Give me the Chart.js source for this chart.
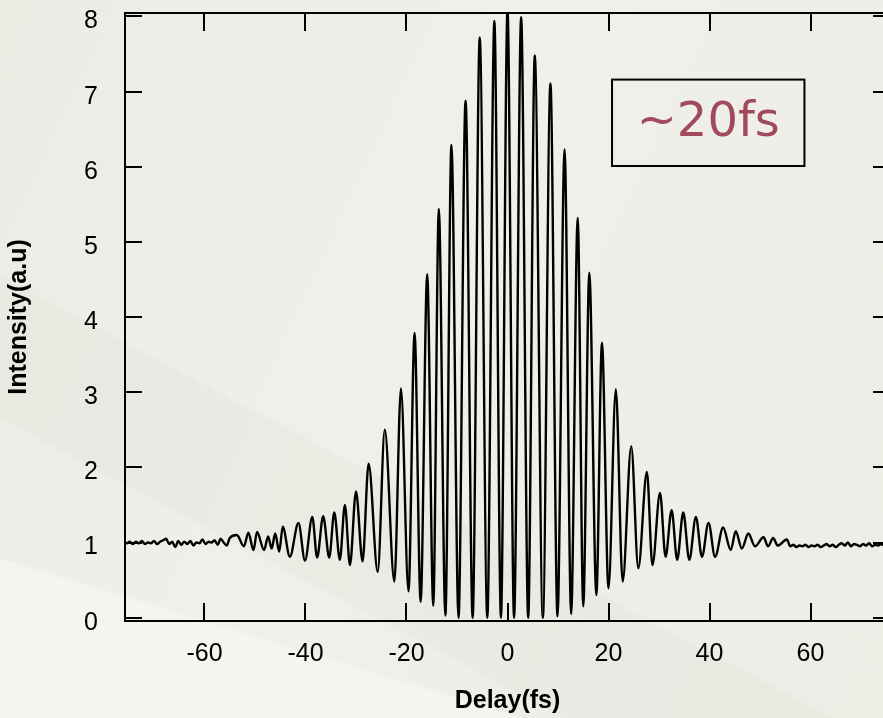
<!DOCTYPE html>
<html>
<head>
<meta charset="utf-8">
<script src="https://cdn.jsdelivr.net/npm/chart.js@4.4.0/dist/chart.umd.min.js"></script>
<style>
html, body { margin: 0; padding: 0; width: 883px; height: 718px; overflow: hidden; }
body {
    background:
        linear-gradient(17deg, #f5f5f0 0 16%, rgba(0,0,0,0) 16.3%),
        linear-gradient(28deg, rgba(0,0,0,0) 0 25%, rgba(220,220,210,0.25) 25.5% 37%, rgba(0,0,0,0) 37.5%),
        linear-gradient(115deg, #ececE5 0%, #f0f0ea 45%, #ededE6 100%);
}
#wrap { position: absolute; left: 0; top: 0; width: 900px; height: 718px; }
</style>
</head>
<body>
<div id="wrap"><canvas id="acChart" width="900" height="718"></canvas></div>
<script>
// Interferometric autocorrelation, values
const xTicks = [-60, -40, -20, 0, 20, 40, 60];
const yTicks = [0, 1, 2, 3, 4, 5, 6, 7, 8];

// flat noisy background, left side
const noiseLeftDelay = [-76.0, -75.4, -74.8, -74.2, -73.6, -73.0, -72.4, -71.8, -71.2, -70.6, -70.0, -69.4,
    -68.8, -68.2, -67.6, -67.0, -66.4, -65.8, -65.2, -64.6, -64.0, -63.4, -62.8, -62.2, -61.6, -61.0,
    -60.4, -59.8, -59.2, -58.6, -58.0, -57.4, -56.8, -56.2, -55.6, -55.0];
const noiseLeftLevel = [1.00, 0.99, 1.01, 0.98, 1.01, 0.99, 1.02, 0.98, 1.00, 0.99, 1.02, 0.98,
    1.01, 1.03, 1.05, 0.98, 1.01, 0.94, 1.02, 0.97, 1.01, 0.98, 1.02, 0.96, 1.00, 0.99,
    1.04, 0.98, 1.01, 1.00, 1.03, 0.97, 1.05, 1.00, 0.96, 1.06];

// fringes: alternating peaks and troughs
const fringeDelay = [-53.6, -52.2, -51.3, -50.3, -49.6, -48.2, -47.4, -46.7, -46.0, -45.2,
    -44.5, -43.1, -41.4, -40.1, -38.65, -37.7, -36.5, -35.3, -34.3, -33.2, -32.2, -31.2,
    -30.0, -28.7, -27.5, -25.7, -24.3, -22.4, -21.1, -19.6, -18.4, -17.2, -15.9, -14.7,
    -13.6, -12.3, -11.1, -9.7, -8.3, -6.9, -5.5, -4.0, -2.6, -1.3, 0.0, 1.3, 2.7, 4.1,
    5.4, 7.0, 8.5, 9.9, 11.3, 12.6, 13.9, 15.0, 16.2, 17.6, 18.7, 20.0, 21.45, 22.8,
    24.5, 25.9, 27.6, 28.7, 30.2, 31.3, 32.5, 33.6, 34.8, 36.0, 37.3, 38.5, 39.8, 41.1,
    42.7, 44.2, 45.2, 46.4, 47.7, 49.0, 50.7, 51.6, 52.6, 53.5, 55.3];
const fringeLevel = [1.10, 0.95, 1.13, 0.90, 1.14, 0.90, 1.08, 0.92, 1.12, 0.88,
    1.21, 0.81, 1.26, 0.76, 1.34, 0.80, 1.35, 0.80, 1.40, 0.77, 1.50, 0.70,
    1.68, 0.75, 2.05, 0.61, 2.50, 0.48, 3.05, 0.35, 3.79, 0.21, 4.57, 0.16,
    5.44, 0.03, 6.29, 0.00, 6.88, 0.00, 7.72, 0.00, 7.94, 0.00, 8.08, 0.00, 7.99, 0.00,
    7.48, 0.00, 7.11, 0.02, 6.23, 0.05, 5.32, 0.15, 4.59, 0.30, 3.66, 0.39, 3.04, 0.48,
    2.28, 0.66, 1.94, 0.70, 1.66, 0.81, 1.43, 0.77, 1.40, 0.77, 1.34, 0.81, 1.26, 0.81,
    1.20, 0.90, 1.15, 0.92, 1.12, 0.95, 1.07, 0.95, 1.06, 0.96, 1.04];

// flat noisy background, right side
const noiseRightDelay = [56.0, 56.6, 57.2, 57.8, 58.4, 59.0, 59.6, 60.2, 60.8, 61.4, 62.0, 62.6,
    63.2, 63.8, 64.4, 65.0, 65.6, 66.2, 66.8, 67.4, 68.0, 68.6, 69.2, 69.8, 70.4, 71.0,
    71.6, 72.2, 72.8, 73.4, 74.0, 74.6, 75.2, 75.8];
const noiseRightLevel = [0.95, 0.97, 0.94, 0.96, 0.95, 0.97, 0.94, 0.96, 0.95, 0.97, 0.94, 0.96,
    0.98, 0.95, 0.97, 0.94, 0.97, 0.99, 0.96, 1.00, 0.95, 0.98, 0.97, 0.95, 0.98, 0.96,
    0.99, 0.95, 0.97, 0.96, 0.98, 0.96, 0.97, 0.96];

const delay = [...noiseLeftDelay, ...fringeDelay, ...noiseRightDelay];
const intensity = [...noiseLeftLevel, ...fringeLevel, ...noiseRightLevel];

const pulseNote = '~20fs';
const noteBox = { x1: 20.7, x2: 58.8, y1: 7.16, y2: 6.01 };

const FONT = "'Liberation Sans', Arial, Helvetica, sans-serif";

// frame with inward tick marks on all four sides, plus the note box
const frameTicks = {
    id: 'frameTicks',
    afterDatasetsDraw(chart) {
        const { ctx, chartArea: a, scales: { x, y } } = chart;
        ctx.save();
        ctx.strokeStyle = '#000';
        ctx.lineWidth = 2;
        ctx.strokeRect(a.left, a.top, a.right - a.left, a.bottom - a.top);
        ctx.beginPath();
        xTicks.forEach(v => {
            const px = Math.round(x.getPixelForValue(v));
            ctx.moveTo(px, a.bottom); ctx.lineTo(px, a.bottom - 18);
            ctx.moveTo(px, a.top); ctx.lineTo(px, a.top + 18);
        });
        yTicks.forEach(v => {
            const py = Math.round(y.getPixelForValue(v));
            ctx.moveTo(a.left, py); ctx.lineTo(a.left + 17, py);
            ctx.moveTo(a.right, py); ctx.lineTo(a.right - 17, py);
        });
        ctx.stroke();

        const bx1 = x.getPixelForValue(noteBox.x1), bx2 = x.getPixelForValue(noteBox.x2);
        const by1 = y.getPixelForValue(noteBox.y1), by2 = y.getPixelForValue(noteBox.y2);
        ctx.strokeRect(bx1, by1, bx2 - bx1, by2 - by1);
        ctx.fillStyle = '#a1495d';
        ctx.font = "48px 'Comic Sans MS', 'DejaVu Sans', sans-serif";
        ctx.textAlign = 'center';
        ctx.textBaseline = 'middle';
        ctx.fillText(pulseNote, (bx1 + bx2) / 2, (by1 + by2) / 2 + 1);
        ctx.restore();
    }
};

new Chart(document.getElementById('acChart'), {
    type: 'line',
    data: {
        datasets: [{
            label: 'Intensity',
            data: delay.map((d, i) => ({ x: d, y: intensity[i] })),
            borderColor: '#000',
            borderWidth: 2.4,
            pointRadius: 0,
            cubicInterpolationMode: 'monotone',
            fill: false
        }]
    },
    options: {
        responsive: false,
        animation: false,
        layout: { padding: { top: 13, right: 10, left: 0, bottom: 0 } },
        plugins: { legend: { display: false }, tooltip: { enabled: false } },
        scales: {
            x: {
                type: 'linear',
                min: -75.74,
                max: 75.74,
                afterBuildTicks: s => { s.ticks = xTicks.map(v => ({ value: v })); },
                afterFit: s => { s.height = 97; s.paddingLeft = 0; s.paddingRight = 0; },
                grid: { display: false, drawTicks: false },
                border: { display: false },
                ticks: { color: '#000', padding: 18, font: { size: 25, family: FONT }, maxRotation: 0 },
                title: { display: true, text: 'Delay(fs)', color: '#000', padding: { top: 0, bottom: 2 },
                         font: { size: 25, weight: 'bold', family: FONT } }
            },
            y: {
                min: -0.044,
                max: 8.046,
                afterBuildTicks: s => { s.ticks = yTicks.map(v => ({ value: v })); },
                afterFit: s => { s.width = 125; s.paddingTop = 0; s.paddingBottom = 0; },
                grid: { display: false, drawTicks: false },
                border: { display: false },
                ticks: { color: '#000', padding: 27, labelOffset: 5, font: { size: 25, family: FONT } },
                title: { display: true, text: 'Intensity(a.u)', color: '#000', padding: { top: 4, bottom: 0 },
                         font: { size: 25, weight: 'bold', family: FONT } }
            }
        }
    },
    plugins: [frameTicks]
});
</script>
</body>
</html>
